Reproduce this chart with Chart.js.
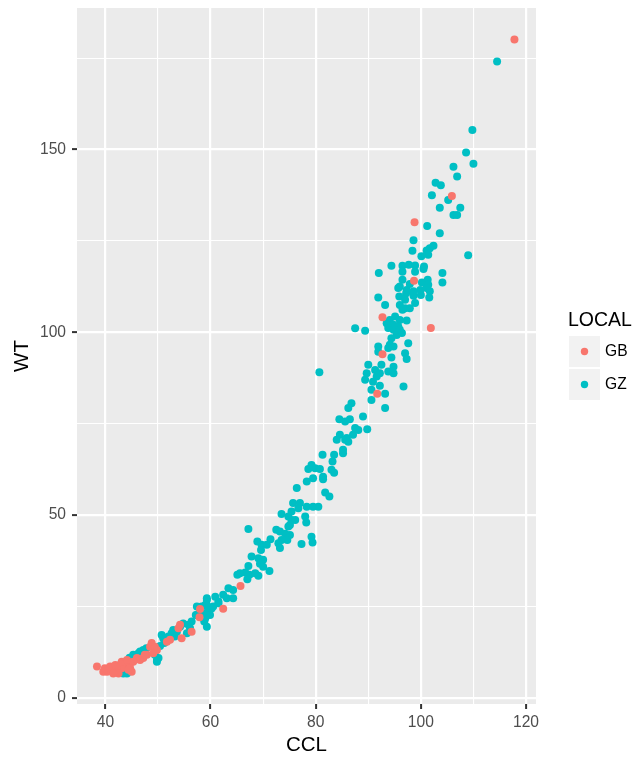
<!DOCTYPE html>
<html>
<head>
<meta charset="utf-8">
<script src="https://cdn.jsdelivr.net/npm/chart.js@4.4.1/dist/chart.umd.min.js"></script>
<style>
  html, body { margin: 0; padding: 0; background: #ffffff; }
  canvas { display: block; }
</style>
</head>
<body>
<canvas id="chart" width="638" height="759"></canvas>
<script>
// Series: carapace length (CCL) vs weight (WT), by location
const seriesNames = ['GB', 'GZ'];
const seriesColors = ['#F8766D', '#00BFC4'];

// [CCL, WT] pairs for location GB
const gbPoints = [
  [117.8,180.1],[105.9,137.3],[98.8,130.1],[98.7,114.1],[92.7,104.1],[101.9,101.2],
  [92.7,94.0],[91.7,83.2],[65.7,30.6],[62.4,24.4],[58.0,24.3],[57.9,22.1],
  [54.5,16.3],[52.3,15.9],[51.7,15.4],[53.9,19.1],[54.2,20.0],[56.4,18.1],
  [48.8,15.0],[48.5,14.0],[49.4,14.0],[49.8,13.1],[47.9,11.8],[49.1,12.2],
  [46.0,10.9],[46.6,10.4],[45.3,9.9],[44.7,9.5],[44.1,8.6],[43.1,8.1],
  [42.2,7.7],[41.2,7.7],[40.3,7.2],[39.6,7.2],[39.9,8.1],[40.9,8.6],
  [41.9,9.0],[43.1,9.9],[44.1,10.4],[44.7,8.1],[45.0,7.2],[42.5,6.7],
  [41.5,6.7],[38.4,8.6],[44.4,7.7],[47.2,10.9],[47.5,11.8]
];

// [CCL, WT] pairs for location GZ
const gzPoints = [
  [114.5,174.1],[109.8,155.3],[108.6,149.2],[110.0,146.1],[106.2,145.3],[106.9,142.6],
  [102.8,140.9],[103.8,140.2],[102.1,137.5],[105.2,136.2],[103.6,134.1],[107.5,134.1],
  [106.2,132.1],[106.9,132.1],[101.2,129.1],[103.6,127.1],[98.6,125.2],[98.4,122.3],
  [102.4,123.7],[101.7,123.0],[101.1,122.4],[101.4,121.2],[100.1,120.8],[109.0,121.1],
  [94.4,118.2],[92.0,116.2],[96.5,118.2],[97.7,118.5],[98.9,118.3],[100.6,118.0],
  [96.5,116.6],[98.9,116.6],[100.5,117.3],[104.1,116.2],[104.1,113.6],[96.0,112.5],
  [96.5,114.4],[97.9,113.2],[100.2,113.6],[101.3,114.4],[101.4,113.0],[91.9,109.5],
  [95.9,109.8],[97.2,110.7],[98.6,110.0],[100.0,110.2],[101.6,109.5],
  [95.7,112.1],[97.3,111.6],[98.6,111.2],[99.9,111.6],[101.1,112.1],[101.7,111.2],
  [97.0,108.9],[93.2,107.5],[96.0,107.5],[97.0,106.6],[97.9,106.6],[98.9,108.0],[96.5,106.2],
  [95.1,104.3],[94.1,103.4],[96.0,103.4],[97.3,103.2],[93.5,102.5],[94.8,102.1],
  [95.7,101.6],[93.8,101.2],[94.8,100.7],[96.0,100.7],[95.4,99.3],[94.4,98.4],[96.4,99.8],
  [89.4,100.4],[87.5,101.1],
  [97.6,97.0],[94.1,96.6],[94.8,96.1],[93.8,95.7],[91.9,96.1],[91.9,94.7],
  [94.4,93.1],[97.0,94.3],[97.3,92.7],
  [90.0,91.1],[92.5,91.1],[94.8,90.6],[91.3,89.7],[92.2,88.8],[93.8,89.3],
  [89.7,88.8],[89.4,87.0],[91.6,87.9],[90.9,86.5],[94.8,88.8],[92.2,85.4],
  [96.7,85.2],[93.2,83.2],[90.6,81.5],[93.2,79.3],[90.6,84.3],
  [80.7,89.1],[86.8,80.6],[86.2,79.3],[84.5,76.2],[85.6,75.6],[86.5,76.2],
  [89.0,77.0],[89.8,73.5],[87.5,73.8],[88.1,73.3],[87.1,72.0],[84.6,72.0],
  [85.9,71.1],[84.0,70.6],[86.2,70.1],[85.6,70.6],
  [85.2,67.9],[85.2,66.9],[81.3,66.5],[83.5,66.5],[83.2,64.7],[79.2,63.7],
  [79.9,62.8],[80.8,62.6],[78.6,62.6],[83.0,62.4],[83.5,61.6],[79.5,60.1],
  [78.3,59.2],[81.4,60.5],[81.4,59.8],[76.4,57.4],[81.8,56.2],[82.6,55.1],
  [75.7,53.3],[77.0,53.3],[78.3,52.3],[79.5,52.3],[80.5,52.3],[76.7,51.9],
  [75.4,51.0],[73.5,50.3],[78.0,49.6],[78.2,48.0],
  [74.8,49.6],[75.4,48.7],[76.1,48.7],[75.1,47.3],[74.8,46.9],[79.2,44.1],
  [79.4,42.5],[77.3,42.1],
  [72.5,46.0],[73.2,45.5],[74.2,44.9],[75.1,44.6],[74.6,43.2],[73.5,43.2],
  [72.9,42.3],[73.2,41.0],
  [67.2,46.2],[68.9,42.8],[69.7,41.9],[70.7,41.9],[71.4,43.4],[69.6,40.5],
  [67.8,38.7],[69.1,38.2],[70.0,37.8],[69.4,36.7],[70.0,35.9],[71.2,34.7],
  [67.2,36.1],[66.6,34.3],[67.4,33.7],[68.5,34.1],[69.1,33.4],[65.1,33.7],
  [67.0,32.5],[65.6,34.1],
  [63.4,30.0],[64.3,29.5],[62.4,28.2],[60.9,27.7],[59.3,27.3],[64.3,27.3],
  [63.1,27.3],[61.5,26.4],[59.0,25.4],[58.0,24.5],[59.6,24.1],[60.2,24.5],
  [58.6,23.2],[59.9,22.7],[57.4,22.7],[59.0,21.8],[59.3,26.8],
  [58.3,25.0],[59.3,25.4],[58.8,20.9],[59.3,19.5],[60.5,25.0],[61.5,25.9],
  [57.4,25.0],[57.2,22.7],[56.4,20.9],[55.8,20.0],[54.8,20.4],[54.2,19.5],
  [53.6,18.1],[52.9,18.6],[55.5,17.7],[56.1,19.1],
  [50.7,17.2],[51.0,16.3],[52.6,17.7],[53.2,16.8],[51.2,15.0],[52.0,16.8],[50.4,14.2],
  [50.1,10.9],[49.8,9.9],[49.4,11.8],[47.2,13.1],[46.6,12.7],[47.8,13.6],[46.8,12.0],
  [46.3,12.2],[45.3,11.8],[45.0,10.9],[44.1,9.9],[42.8,9.0],[43.4,8.1],[42.5,7.2],
  [45.9,11.3],[44.6,11.0],[43.6,9.6],
  [43.4,6.7],[44.1,6.7],[49.8,10.4]
];

// Axis ranges and tick values
const xRange = [34.6, 121.9];
const yRange = [-1.65, 188.7];
const xMajorTicks = [40, 60, 80, 100, 120];
const xMinorTicks = [50, 70, 90, 110];
const yMajorTicks = [0, 50, 100, 150];
const yMinorTicks = [25, 75, 125, 175];

const PANEL_BG = '#EBEBEB';
const KEY_BG = '#F2F2F2';
const TICK_TEXT = '#4D4D4D';
const FONT = '"Liberation Sans", Arial, sans-serif';
const POINT_R = 4.0;

function toXY(pairs) {
  return pairs.map(p => ({ x: p[0], y: p[1] }));
}

function allTicks(major, minor) {
  return major.concat(minor).sort((a, b) => a - b).map(v => ({ value: v }));
}

// grey panel behind the grid
const panelBackground = {
  id: 'panelBackground',
  beforeDraw(chart) {
    const { ctx, chartArea: a } = chart;
    ctx.save();
    ctx.fillStyle = PANEL_BG;
    ctx.fillRect(a.left, a.top, a.right - a.left, a.bottom - a.top);
    ctx.restore();
  }
};

// legend with title and grey key boxes, placed right of the panel
const sideLegend = {
  id: 'sideLegend',
  afterDraw(chart) {
    const ctx = chart.ctx;
    ctx.save();
    ctx.textBaseline = 'middle';
    ctx.textAlign = 'left';
    ctx.fillStyle = '#000000';
    ctx.font = '19.5px ' + FONT;
    ctx.fillText('LOCAL', 568, 321);
    const keyX = 569, keyW = 31, keyH = 31, keyTop = 336, gap = 2;
    seriesNames.forEach((name, i) => {
      const top = keyTop + i * (keyH + gap);
      ctx.fillStyle = KEY_BG;
      ctx.fillRect(keyX, top, keyW, keyH);
      ctx.beginPath();
      ctx.arc(keyX + keyW / 2, top + keyH / 2, POINT_R - 0.3, 0, Math.PI * 2);
      ctx.fillStyle = seriesColors[i];
      ctx.fill();
      ctx.fillStyle = '#000000';
      ctx.font = '15.6px ' + FONT;
      ctx.fillText(name, 605, top + keyH / 2 + 0.5);
    });
    ctx.restore();
  }
};

const isMajor = (list, v) => list.indexOf(v) !== -1;

new Chart(document.getElementById('chart'), {
  type: 'scatter',
  data: {
    datasets: [
      {
        label: seriesNames[0],
        data: toXY(gbPoints),
        backgroundColor: seriesColors[0],
        borderColor: seriesColors[0],
        borderWidth: 0,
        pointRadius: POINT_R,
        pointHoverRadius: POINT_R
      },
      {
        label: seriesNames[1],
        data: toXY(gzPoints),
        backgroundColor: seriesColors[1],
        borderColor: seriesColors[1],
        borderWidth: 0,
        pointRadius: POINT_R,
        pointHoverRadius: POINT_R
      }
    ]
  },
  options: {
    responsive: false,
    devicePixelRatio: 1,
    animation: false,
    events: [],
    layout: { padding: { top: 8, right: 102, left: 0, bottom: 0 } },
    plugins: {
      legend: { display: false },
      tooltip: { enabled: false }
    },
    scales: {
      x: {
        type: 'linear',
        min: xRange[0],
        max: xRange[1],
        afterBuildTicks(scale) { scale.ticks = allTicks(xMajorTicks, xMinorTicks); },
        afterFit(scale) {
          scale.height = 55;
          scale.paddingLeft = 0;
          scale.paddingRight = 0;
        },
        border: { display: false },
        grid: {
          color: '#FFFFFF',
          lineWidth: c => isMajor(xMajorTicks, c.tick.value) ? 2.2 : 1.1,
          drawTicks: true,
          tickLength: 5,
          tickWidth: 2,
          tickColor: c => isMajor(xMajorTicks, c.tick.value) ? '#333333' : 'rgba(0,0,0,0)'
        },
        ticks: {
          autoSkip: false,
          maxRotation: 0,
          padding: 4,
          color: TICK_TEXT,
          font: { family: FONT, size: 15.6 },
          callback: v => isMajor(xMajorTicks, v) ? String(v) : ''
        },
        title: {
          display: true,
          text: 'CCL',
          color: '#000000',
          font: { family: FONT, size: 20.5 },
          padding: { top: 0, bottom: 1 }
        }
      },
      y: {
        type: 'linear',
        min: yRange[0],
        max: yRange[1],
        afterBuildTicks(scale) { scale.ticks = allTicks(yMajorTicks, yMinorTicks); },
        afterFit(scale) {
          scale.width = 77;
          scale.paddingTop = 0;
          scale.paddingBottom = 0;
        },
        border: { display: false },
        grid: {
          color: '#FFFFFF',
          lineWidth: c => isMajor(yMajorTicks, c.tick.value) ? 2.2 : 1.1,
          drawTicks: true,
          tickLength: 5,
          tickWidth: 2,
          tickColor: c => isMajor(yMajorTicks, c.tick.value) ? '#333333' : 'rgba(0,0,0,0)'
        },
        ticks: {
          autoSkip: false,
          padding: 6,
          color: TICK_TEXT,
          font: { family: FONT, size: 15.6 },
          callback: v => isMajor(yMajorTicks, v) ? String(v) : ''
        },
        title: {
          display: true,
          text: 'WT',
          color: '#000000',
          font: { family: FONT, size: 20.5 },
          padding: { top: 10, bottom: 0 }
        }
      }
    }
  },
  plugins: [panelBackground, sideLegend]
});
</script>
</body>
</html>
